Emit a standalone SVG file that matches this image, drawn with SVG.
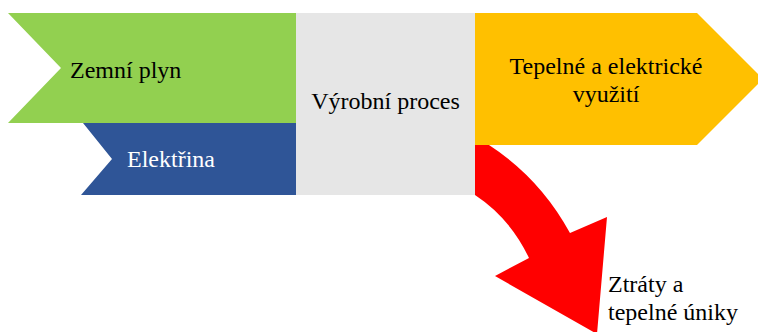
<svg xmlns="http://www.w3.org/2000/svg" width="758" height="332" viewBox="0 0 758 332">
  <style>
    .lbl { font-family: "Liberation Serif", "Times New Roman", serif; font-size: 24px; fill: #000; }
    .light { fill: #fff; }
  </style>
  <rect width="758" height="332" fill="#fff"/>

  <!-- inputs -->
  <g id="zemni-plyn">
    <polygon points="8,13 296,13 296,123 61,123 61,123 8,123 61,68" fill="#92D050"/>
    <text class="lbl" x="70" y="78">Zemní plyn</text>
  </g>
  <g id="elektrina">
    <polygon points="83,123 296,123 296,195 81,195 112,159" fill="#2F5597"/>
    <text class="lbl light" x="127" y="167">Elektřina</text>
  </g>

  <!-- process -->
  <g id="vyrobni-proces">
    <rect x="296" y="13" width="179" height="182" fill="#E6E6E6"/>
    <text class="lbl" x="385.5" y="109" text-anchor="middle">Výrobní proces</text>
  </g>

  <!-- useful output -->
  <g id="vyuziti">
    <polygon points="475,13 697,13 763,79 697,145 475,145" fill="#FFC000"/>
    <text class="lbl" x="606" y="74" text-anchor="middle">Tepelné a elektrické</text>
    <text class="lbl" x="606" y="102" text-anchor="middle">využití</text>
  </g>

  <!-- losses -->
  <g id="ztraty">
    <path d="M475,145 L489,145 Q540,178 570,233 L607,217 L597,334 L495,276 L529,258 Q510,218 475,195 Z" fill="#FF0000"/>
    <text class="lbl" x="608" y="292">Ztráty a</text>
    <text class="lbl" x="608" y="320">tepelné úniky</text>
  </g>
</svg>
